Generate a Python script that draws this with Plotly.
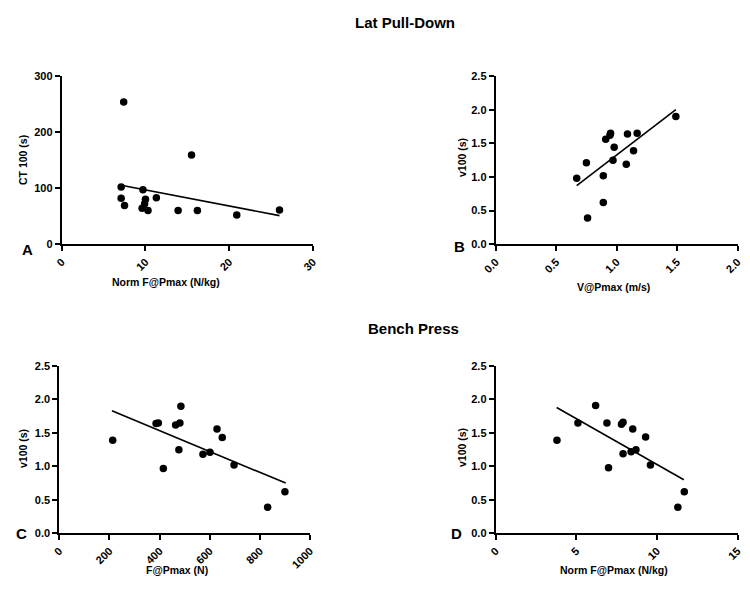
import plotly.graph_objects as go

# Panel A: Lat Pull-Down, Norm F@Pmax vs CT 100
a_x = [7.4, 15.5, 7.1, 9.7, 7.1, 7.5, 10.0, 11.3, 9.6, 9.9, 10.3, 13.9, 16.2, 20.9, 26.0]
a_y = [253, 159, 102, 97, 82, 69, 80, 83, 64, 72, 60, 60, 60, 52, 61]
a_fit_x = [7.1, 26.0]
a_fit_y = [105, 51]

# Panel B: Lat Pull-Down, V@Pmax vs v100
b_x = [0.67, 0.75, 0.89, 0.89, 0.76, 0.91, 0.95, 0.945, 0.98, 0.97, 1.09, 1.17, 1.14, 1.08, 1.49]
b_y = [0.98, 1.21, 1.02, 0.62, 0.39, 1.56, 1.65, 1.62, 1.44, 1.25, 1.64, 1.65, 1.39, 1.19, 1.90]
b_fit_x = [0.67, 1.49]
b_fit_y = [0.87, 2.0]

# Panel C: Bench Press, F@Pmax vs v100
c_x = [213, 415, 386, 395, 464, 481, 485, 477, 573, 601, 629, 650, 697, 831, 900]
c_y = [1.39, 0.97, 1.64, 1.65, 1.62, 1.65, 1.90, 1.25, 1.18, 1.21, 1.56, 1.43, 1.02, 0.39, 0.62]
c_fit_x = [210, 903]
c_fit_y = [1.83, 0.75]

# Panel D: Bench Press, Norm F@Pmax vs v100
d_x = [3.8, 5.1, 6.2, 6.9, 7.0, 7.8, 7.9, 7.9, 8.5, 8.4, 8.7, 9.3, 9.6, 11.3, 11.7]
d_y = [1.39, 1.65, 1.91, 1.65, 0.98, 1.63, 1.66, 1.19, 1.56, 1.22, 1.25, 1.44, 1.02, 0.39, 0.62]
d_fit_x = [3.78, 11.67]
d_fit_y = [1.88, 0.80]

OFF = 8  # page body margin
W, H = 750 - OFF, 592 - 2 * OFF
FONT = "Liberation Sans, Arial, sans-serif"

def px(x):
    return (x - OFF) / W

def py(y):
    return 1 - (y - OFF) / H

panels = [
    dict(x=a_x, y=a_y, fx=a_fit_x, fy=a_fit_y, xr=[0, 30], xd=10, yr=[0, 300], yd=100,
         dom_x=[px(61.7), px(313)], dom_y=[py(244.3), py(75.7)],
         xt="Norm F@Pmax (N/kg)", yt="CT 100 (s)", xfmt="", yfmt="",
         letter="A", lpos=(27, 250), xtpos=(166, 282), ytpos=(23, 160)),
    dict(x=b_x, y=b_y, fx=b_fit_x, fy=b_fit_y, xr=[0, 2], xd=0.5, yr=[0, 2.5], yd=0.5,
         dom_x=[px(495.7), px(737.5)], dom_y=[py(244.3), py(76)],
         xt="V@Pmax (m/s)", yt="v100 (s)", xfmt=".1f", yfmt=".1f",
         letter="B", lpos=(460, 246), xtpos=(613, 287), ytpos=(462, 158)),
    dict(x=c_x, y=c_y, fx=c_fit_x, fy=c_fit_y, xr=[0, 1000], xd=200, yr=[0, 2.5], yd=0.5,
         dom_x=[px(59.3), px(310)], dom_y=[py(533.3), py(366)],
         xt="F@Pmax (N)", yt="v100 (s)", xfmt="", yfmt=".1f",
         letter="C", lpos=(21, 533), xtpos=(177, 570), ytpos=(23, 448)),
    dict(x=d_x, y=d_y, fx=d_fit_x, fy=d_fit_y, xr=[0, 15], xd=5, yr=[0, 2.5], yd=0.5,
         dom_x=[px(495.7), px(737.5)], dom_y=[py(533.3), py(366)],
         xt="Norm F@Pmax (N/kg)", yt="v100 (s)", xfmt="", yfmt=".1f",
         letter="D", lpos=(457, 533), xtpos=(614, 570), ytpos=(462, 448)),
]

fig = go.Figure()
annotations = []
layout = {}

def label(text, x, y, size, angle=0):
    return dict(text=text, x=px(x), y=py(y), xref="paper", yref="paper",
                xanchor="center", yanchor="middle", showarrow=False, textangle=angle,
                font=dict(family=FONT, size=size, color="black", weight="bold"))

for i, p in enumerate(panels, start=1):
    xa = "x" if i == 1 else f"x{i}"
    ya = "y" if i == 1 else f"y{i}"
    fig.add_trace(go.Scatter(x=p["x"], y=p["y"], mode="markers", xaxis=xa, yaxis=ya,
                             marker=dict(color="black", size=7.5), showlegend=False,
                             cliponaxis=False))
    fig.add_trace(go.Scatter(x=p["fx"], y=p["fy"], mode="lines", xaxis=xa, yaxis=ya,
                             line=dict(color="black", width=1.6), showlegend=False))
    axis_common = dict(showgrid=False, zeroline=False, showline=True, linecolor="black",
                       linewidth=2, ticks="outside", ticklen=5, tickwidth=2, tickcolor="black",
                       tickfont=dict(family=FONT, size=11, color="black", weight="bold"),
                       fixedrange=True, automargin=False, ticklabeloverflow="allow")
    layout["xaxis" if i == 1 else f"xaxis{i}"] = dict(
        axis_common, domain=p["dom_x"], range=p["xr"], dtick=p["xd"], tick0=0,
        tickformat=p["xfmt"], tickangle=-45, anchor=ya)
    layout["yaxis" if i == 1 else f"yaxis{i}"] = dict(
        axis_common, domain=p["dom_y"], range=p["yr"], dtick=p["yd"], tick0=0,
        tickformat=p["yfmt"], anchor=xa)
    annotations.append(label(p["letter"], p["lpos"][0], p["lpos"][1], 15))
    annotations.append(label(p["xt"], p["xtpos"][0], p["xtpos"][1], 10.5))
    annotations.append(label(p["yt"], p["ytpos"][0], p["ytpos"][1], 10.5, -90))

annotations.append(label("Lat Pull-Down", 405, 23, 15))
annotations.append(label("Bench Press", 413, 328, 15))

fig.update_layout(**layout)
fig.update_layout(width=W, height=H, margin=dict(l=0, r=0, t=0, b=0, autoexpand=False),
                  paper_bgcolor="white", plot_bgcolor="white",
                  annotations=annotations, showlegend=False)

fig.write_html("out.html", config={"displayModeBar": False})
